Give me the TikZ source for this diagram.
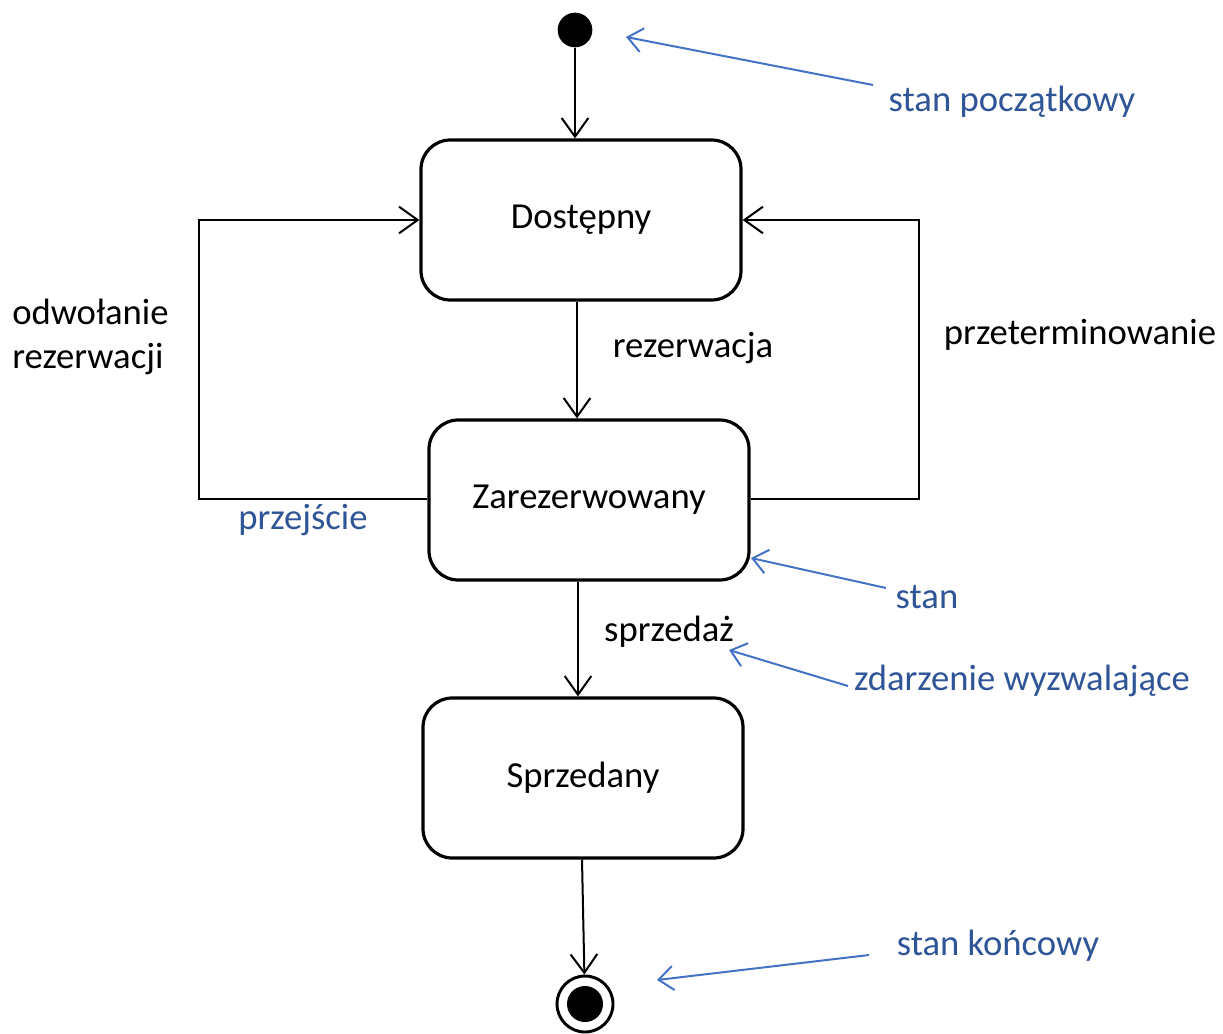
\documentclass[tikz,border=0pt]{standalone}
\usepackage{fontspec}
\setmainfont{Carlito}
\usetikzlibrary{arrows.meta}
\definecolor{annline}{HTML}{4472C4}
\definecolor{anntext}{HTML}{2F5597}
\tikzset{
  statebox/.style={draw, line width=2.4pt, rounded corners=22pt, minimum width=240pt, minimum height=120pt, font=\fontsize{27.5}{33}\selectfont},
  lbl/.style={font=\fontsize{27.5}{33}\selectfont, inner sep=0pt},
  annlbl/.style={lbl, text=anntext},
  conn/.style={line width=1.5pt, -{Straight Barb[length=14pt, width=20pt, line width=1.5pt]}},
  annarrow/.style={annline, line width=1.5pt, -{Straight Barb[length=11pt, width=18pt, line width=1.5pt]}},
}
\begin{document}
\begin{tikzpicture}[x=0.75pt, y=-0.75pt]
\useasboundingbox (0,0) rectangle (1223,1034);
% states
\node[circle, fill=black, minimum size=26pt, inner sep=0pt] (init) at (575,30) {};
\node[statebox] (dost) at (581,220) {Dostępny};
\node[statebox] (zar) at (589,500) {Zarezerwowany};
\node[statebox] (sprz) at (583,778) {Sprzedany};
\node[circle, draw, line width=2.2pt, minimum size=42pt, inner sep=0pt] (fin) at (585,1004) {};
\node[circle, fill=black, minimum size=27pt, inner sep=0pt] (finin) at (fin.center) {};
% labels
\node[lbl] (lrez) at (693,348) {rezerwacja};
\node[lbl] (lsprz) at (669,632) {sprzedaż};
\node[lbl, align=left, anchor=west] (lodw) at (12,337) {odwołanie\\rezerwacji};
\node[lbl] (lprz) at (1080,335) {przeterminowanie};
\node[annlbl] (lprzej) at (303,520) {przejście};
\node[annlbl] (astart) at (1012,102) {stan początkowy};
\node[annlbl] (astan) at (927,597) {stan};
\node[annlbl] (azdarz) at (1022,681) {zdarzenie wyzwalające};
\node[annlbl] (akonc) at (998,946) {stan końcowy};
% transitions
\draw[conn] (init) -- (dost.north -| init);
\draw[conn] (dost.south -| 577,0) -- (zar.north -| 577,0);
\draw[conn] (zar.south -| 578,0) -- (sprz.north -| 578,0);
\draw[conn] (sprz.south -| 582,0) -- (fin);
\coordinate (lb) at (199,499);
\coordinate (lt) at (199,220);
\coordinate (rb) at (919,499);
\coordinate (rt) at (919,220);
\draw[conn] (zar.west |- lb) -- (lb) -- (lt) -- (dost.west);
\draw[conn] (zar.east |- rb) -- (rb) -- (rt) -- (dost.east);
% annotation arrows
\coordinate (a1s) at (873,85);  \coordinate (a1e) at (626,37);
\coordinate (a2s) at (886,588); \coordinate (a2e) at (751,558);
\coordinate (a3s) at (848,686); \coordinate (a3e) at (729,650);
\coordinate (a4s) at (869,955); \coordinate (a4e) at (657,980);
\draw[annarrow] (a1s) -- (a1e);
\draw[annarrow] (a2s) -- (a2e);
\draw[annarrow] (a3s) -- (a3e);
\draw[annarrow] (a4s) -- (a4e);
\end{tikzpicture}
\end{document}
